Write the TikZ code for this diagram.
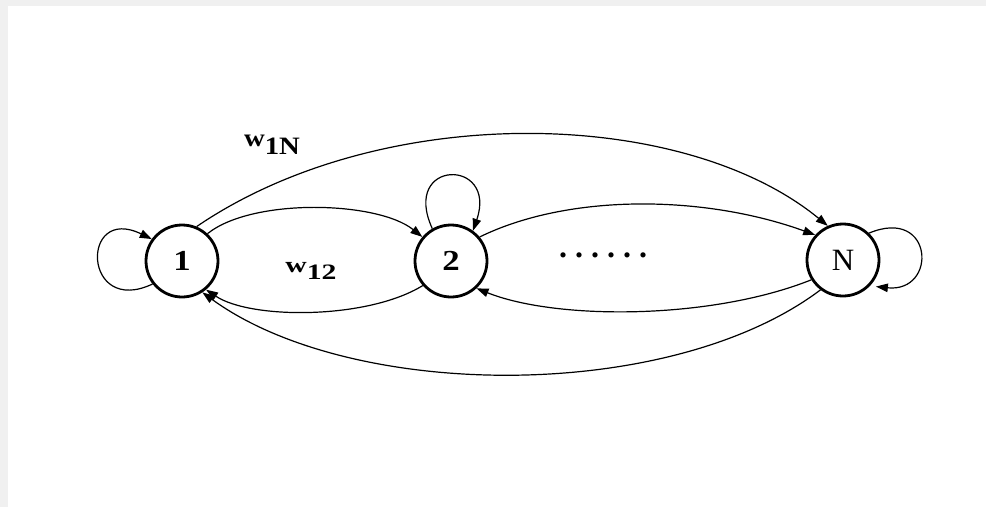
\documentclass[tikz,border=0pt]{standalone}
\usepackage{fontspec}
\setmainfont{Liberation Serif}
\usetikzlibrary{arrows.meta}
\tikzset{
  state/.style={circle, draw, line width=2.8pt, minimum size=72pt, inner sep=0pt},
  link/.style={line width=1.2pt, -{Triangle[length=12pt,width=8.5pt]}},
  wlabel/.style={inner sep=0pt}
}
\begin{document}
\begin{tikzpicture}[x=1pt,y=-1pt]
  % page frame with a light grey strip on the top and left edges
  \fill[black!6] (0,0) rectangle (986,507);
  \fill[white] (8,6) rectangle (986,507);
  \useasboundingbox (0,0) rectangle (986,507);

  % states
  \node[state] (n1) at (182,261) {\scalebox{1.2}[1]{\fontsize{29}{29}\selectfont\bfseries 1}};
  \node[state] (n2) at (451,261) {\scalebox{1.2}[1]{\fontsize{29}{29}\selectfont\bfseries 2}};
  \node[state] (nN) at (843,260) {\fontsize{31}{31}\selectfont N};

  % transitions between neighbouring states
  \draw[link] (n1.47) .. controls +(45,-36) and +(-45,-36) .. (n2.140);
  \draw[link] (n2.221) .. controls +(-55,34) and +(45,30) .. (n1.310);
  \draw[link] (n2.40) .. controls +(90,-44) and +(-110,-40) .. (nN.138);
  \draw[link] (nN.212) .. controls +(-100,40) and +(80,32) .. (n2.313);

  % long-range transitions
  \draw[link] (n1.67) .. controls +(185,-126) and +(-145,-119) .. (nN.114);
  \draw[link] (nN.233) .. controls +(-150,113) and +(150,109) .. (n1.303);

  % self-loops
  \draw[link] (n1.218) .. controls +(-70,33) and +(-72,-35) .. (n1.144);
  \draw[link] (n2.120) .. controls +(-32,-70) and +(25,-73) .. (n2.54);
  \draw[link, shorten >=6pt] (nN.46) .. controls +(65,-27) and +(68,7) .. (nN.316);

  % weights
  \node[wlabel] (w1N) at (272,145) {\scalebox{1.15}[1]{\fontsize{25}{25}\selectfont\bfseries w\raisebox{-8pt}{1N}}};
  \node[wlabel] (w12) at (311,271) {\scalebox{1.35}[1]{\fontsize{22}{22}\selectfont\bfseries w\raisebox{-7pt}{12}}};

  % ellipsis for the states in between
  \node (dots) at (603,255) {\fontsize{32}{32}\selectfont\bfseries .\hspace{8pt}.\hspace{8pt}.\hspace{8pt}.\hspace{8pt}.\hspace{8pt}.};
\end{tikzpicture}
\end{document}
